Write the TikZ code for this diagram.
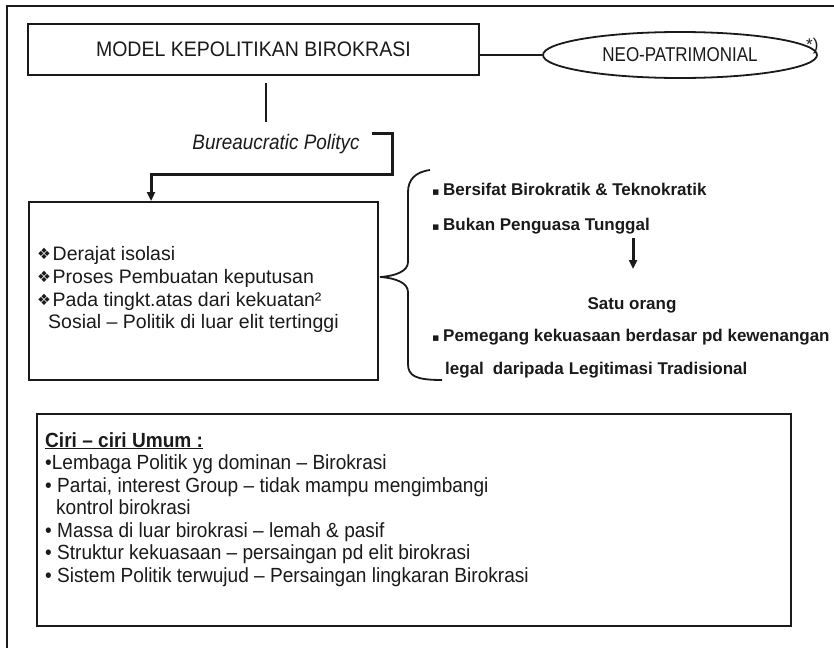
\documentclass[tikz,border=0pt]{standalone}
\usepackage{fontspec}
\setmainfont{Liberation Sans}
\newfontfamily\titlefont[FakeStretch=0.93]{Liberation Sans}
\newfontfamily\labelfont[FakeStretch=0.90]{Liberation Sans}
\newfontfamily\ovalfont[FakeStretch=0.85]{Liberation Sans}
\newfontfamily\listfont[FakeStretch=0.93]{Liberation Sans}
\newfontfamily\symfont{DejaVu Sans}
\usetikzlibrary{arrows.meta,shapes.geometric}
\definecolor{ink}{HTML}{1A1A1A}
\newcommand{\px}[1]{\fontsize{#1}{#1}\selectfont}
\newcommand{\diam}{\makebox[15.5pt][l]{\raisebox{0.5pt}{\symfont\px{15.5}❖}}}
\newcommand{\sq}{\makebox[11pt][l]{\symfont\px{11}▪}}

\begin{document}
\begin{tikzpicture}[x=1pt,y=-1pt,
  every node/.style={text=ink},
  frame/.style={draw=ink,line width=1.6pt},
  boxnode/.style={draw=ink,line width=1.8pt,inner sep=0pt,anchor=north west},
  thinline/.style={draw=ink,line width=1.8pt},
  heavy/.style={draw=ink,line width=3pt},
  tip/.style={-{Triangle[length=9pt,width=8pt]}},
  txt/.style={inner sep=0pt,anchor=base west},
  ctxt/.style={inner sep=0pt,anchor=base}]
\useasboundingbox (0,0) rectangle (834,648);
\fill[white] (0,0) rectangle (834,648);

% outer frame (top and left edges)
\draw[frame] (834,6) -- (7,6) -- (7,648);

% title box and the oval
\node[boxnode,minimum width=451pt,minimum height=51pt] (model) at (27,23)
  {\titlefont\px{21}MODEL KEPOLITIKAN BIROKRASI};
\node[draw=ink,line width=1.8pt,ellipse,inner sep=0pt,
      minimum width=274pt,minimum height=46pt] (neo) at (680,55)
  {\ovalfont\px{20}NEO-PATRIMONIAL};
\node[txt] (star) at (806,50) {\px{17}*)};
\draw[thinline] (neo.west) -- (neo.west -| model.east);

% stem below the title box
\coordinate (stemtop) at (266,83);
\coordinate (stembot) at (266,122);
\draw[thinline] (stemtop) -- (stembot);

% italic label and the bent arrow into the left box
\node[ctxt] (bp) at (276,149) {\labelfont\itshape\px{21}Bureaucratic Polityc};
\coordinate (bend0) at (372,133);
\coordinate (bend1) at (392,133);
\coordinate (bend2) at (392,174);
\coordinate (bend3) at (151,174);

% left box
\node[boxnode,minimum width=349pt,minimum height=178pt] (lbox) at (28,201) {};
\draw[heavy,tip] (bend0) -- (bend1) -- (bend2) -- (bend3) -- (bend3 |- lbox.north);

\node[txt] (l1) at (37,260) {\px{19.5}\diam Derajat isolasi};
\node[txt] (l2) at (37,283) {\px{19.5}\diam Proses Pembuatan keputusan};
\node[txt] (l3) at (37,306) {\px{19.5}\diam Pada tingkt.atas dari kekuatan²};
\node[txt] (l4) at (48,328) {\px{19.5}Sosial – Politik di luar elit tertinggi};

% curly brace
\draw[draw=ink,line width=1.8pt]
  (430,170) .. controls (415,172) and (408,180) .. (408,192)
  -- (408,262) .. controls (408,271) and (396,276) .. (380,277)
  .. controls (396,278) and (408,283) .. (408,292)
  -- (408,364) .. controls (408,376) and (416,380) .. (442,380);

% right-hand list
\node[txt] (r1) at (432,195) {\bfseries\px{17}\sq Bersifat Birokratik \& Teknokratik};
\node[txt] (r2) at (432,230) {\bfseries\px{17}\sq Bukan Penguasa Tunggal};
\node[ctxt] (r3) at (632,309) {\bfseries\px{17}Satu orang};
\node[txt] (r4) at (432,341) {\bfseries\px{17}\sq Pemegang kekuasaan berdasar pd kewenangan};
\node[txt] (r5) at (445,374) {\bfseries\px{17}legal\hspace{9pt}daripada\hspace{5pt}Legitimasi Tradisional};
\coordinate (ar1) at (633,238);
\coordinate (ar2) at (633,269);
\draw[heavy,tip] (ar1) -- (ar2);

% general characteristics box
\node[boxnode,line width=2.4pt,minimum width=754pt,minimum height=212pt] (gbox) at (36,413) {};
\node[txt] (g0) at (45,447) {\listfont\bfseries\px{20.5}\underline{Ciri – ciri Umum :}};
\node[txt] (g1) at (45,469) {\listfont\px{20.5}•Lembaga Politik yg dominan – Birokrasi};
\node[txt] (g2) at (45,492) {\listfont\px{20.5}• Partai, interest Group – tidak mampu mengimbangi};
\node[txt] (g3) at (56,514) {\listfont\px{20.5}kontrol birokrasi};
\node[txt] (g4) at (45,537) {\listfont\px{20.5}• Massa di luar birokrasi – lemah \& pasif};
\node[txt] (g5) at (45,559) {\listfont\px{20.5}• Struktur kekuasaan – persaingan pd elit birokrasi};
\node[txt] (g6) at (45,582) {\listfont\px{20.5}• Sistem Politik terwujud – Persaingan lingkaran Birokrasi};
\end{tikzpicture}
\end{document}
